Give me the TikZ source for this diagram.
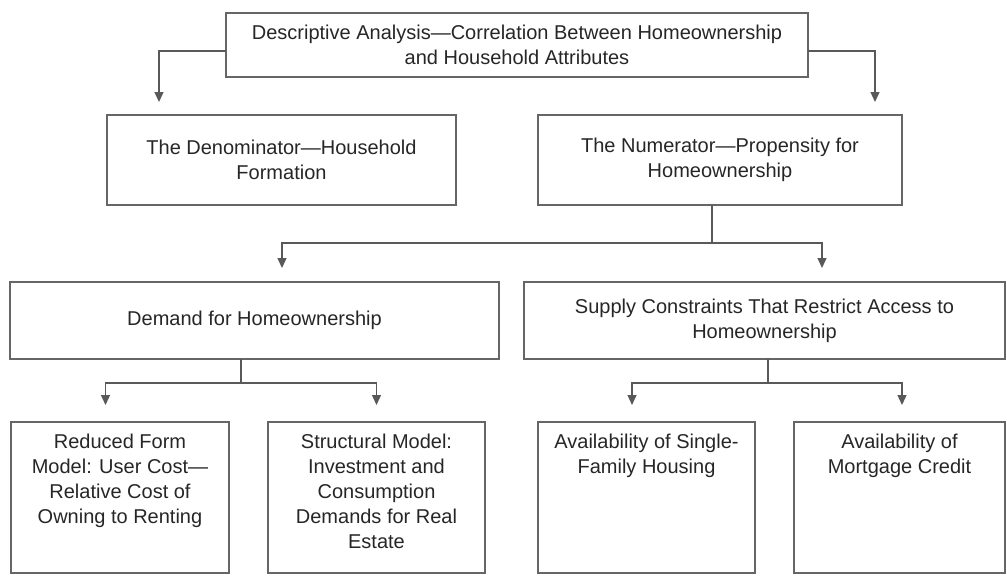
\documentclass[tikz,border=0pt]{standalone}
\usepackage{fontspec}
\setmainfont{Liberation Sans}
\usetikzlibrary{arrows.meta,calc}
\begin{document}
\begin{tikzpicture}[x=1pt,y=-1pt,
 box/.style={draw=black!60, line width=1.5pt, rectangle, inner sep=0pt, outer sep=0pt, align=center, text=black!85},
 txt/.style={align=center, text=black!85, inner sep=0pt},
 arr/.style={draw=black!65, line width=1.3pt, -{Triangle[width=9pt,length=10pt]}},
 ln/.style={draw=black!65, line width=1.3pt},
 font=\fontsize{20}{25}\selectfont]
\useasboundingbox (0,0) rectangle (1007,576);
\node[box, minimum width=582pt, minimum height=64pt] (top) at (517,45) {Descriptive Analysis—Correlation Between Homeownership\\and Household Attributes};
\node[box, minimum width=349pt, minimum height=90pt] (den) at (281.5,160) {The Denominator—Household\\Formation};
\node[box, minimum width=364pt, minimum height=90pt] (num) at (720,160) {The Numerator—Propensity for\\Homeownership};
\node[box, minimum width=489pt, minimum height=77pt] (dem) at (254.5,320.5) {Demand for Homeownership};
\node[box, minimum width=481pt, minimum height=77pt] (sup) at (764.5,320.5) {Supply Constraints That Restrict Access to\\Homeownership};
\node[box, minimum width=218pt, minimum height=151pt] (b1) at (120,497.5) {};
\node[box, minimum width=217pt, minimum height=151pt] (b2) at (376.5,497.5) {};
\node[box, minimum width=217pt, minimum height=151pt] (b3) at (646.5,497.5) {};
\node[box, minimum width=211pt, minimum height=151pt] (b4) at (899.5,497.5) {};
\node[txt, anchor=north] (b1t) at ([yshift=-12pt]b1.north) {Reduced Form\\Model: User Cost—\\Relative Cost of\\Owning to Renting};
\node[txt, anchor=north] (b2t) at ([yshift=-12pt]b2.north) {Structural Model:\\Investment and\\Consumption\\Demands for Real\\Estate};
\node[txt, anchor=north] (b3t) at ([yshift=-12pt]b3.north) {Availability of Single-\\Family Housing};
\node[txt, anchor=north] (b4t) at ([yshift=-12pt]b4.north) {Availability of\\Mortgage Credit};
\draw[arr] ([yshift=-6pt]top.west) -| ([xshift=52pt,yshift=13pt]den.north west);
\draw[arr] ([yshift=-6pt]top.east) -| ([xshift=-27pt,yshift=13pt]num.north east);
\coordinate (j1) at ($(num.south)+(-8,38)$);
\draw[ln] ([xshift=-8pt]num.south) -- (j1);
\draw[arr] (j1) -| ([xshift=272pt,yshift=14pt]dem.north west);
\draw[arr] (j1) -| ([xshift=298pt,yshift=14pt]sup.north west);
\coordinate (j2) at ($(dem.south)+(-13.5,24)$);
\draw[ln] ([xshift=-13.5pt]dem.south) -- (j2);
\draw[arr] (j2) -| ([xshift=-14.5pt,yshift=17pt]b1.north);
\draw[arr] (j2) -| ([yshift=17pt]b2.north);
\coordinate (j3) at ($(sup.south)+(3.5,24)$);
\draw[ln] ([xshift=3.5pt]sup.south) -- (j3);
\draw[arr] (j3) -| ([xshift=-14.5pt,yshift=17pt]b3.north);
\draw[arr] (j3) -| ([xshift=2.5pt,yshift=17pt]b4.north);
\end{tikzpicture}
\end{document}
